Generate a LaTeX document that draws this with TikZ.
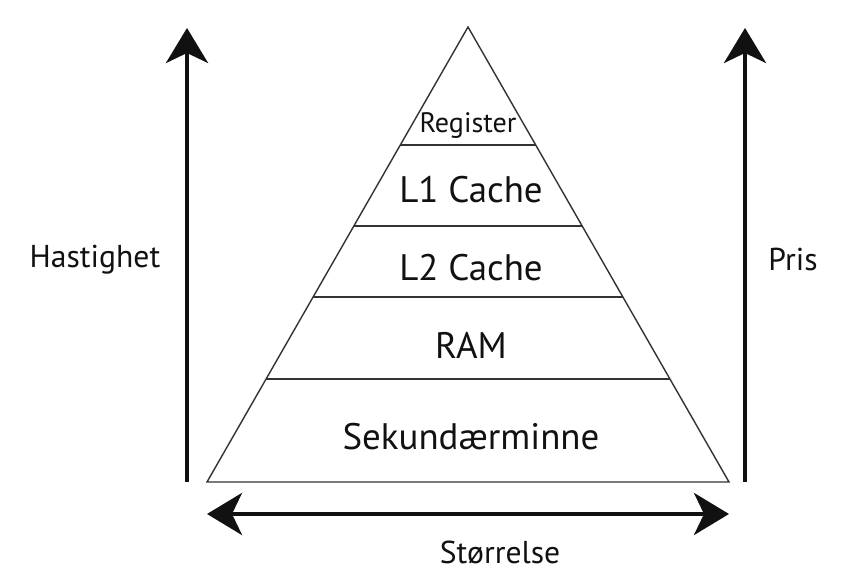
\documentclass[tikz,border=0pt]{standalone}
\usepackage{fontspec}
\setmainfont{PT Sans}
\usetikzlibrary{arrows.meta, calc}
\definecolor{inkblack}{HTML}{111111}
\definecolor{edgegray}{HTML}{333333}

\begin{document}
\begin{tikzpicture}[
  x=0.02cm, y=0.02cm,
  >={Stealth[length=7mm, width=8.4mm, inset=2mm]},
  axis/.style={draw=inkblack, line width=2.4pt, ->},
  level/.style={draw=edgegray, line width=0.8pt},
  tier/.style={font=\fontsize{21}{25}\selectfont, text=inkblack},
  side/.style={font=\fontsize{18}{21}\selectfont, text=inkblack},
]
\useasboundingbox (0,0) rectangle (865,570);

% Pyramid
\coordinate (apex) at (468,543);
\coordinate (bl) at (207,88);
\coordinate (br) at (729,88);
\draw[level, line join=miter] (apex) -- (bl) -- (br) -- cycle;
\foreach \t in {118,199,270,352}
  \draw[level] ($(apex)!\t/455!(bl)$) -- ($(apex)!\t/455!(br)$);

\node[tier, font=\fontsize{16}{19}\selectfont] (reg) at (468,444) {Register};
\node[tier] (l1) at (471,380) {L1 Cache};
\node[tier] (l2) at (471,302) {L2 Cache};
\node[tier] (ram) at (471,225) {RAM};
\node[tier] (sek) at (471,133) {Sekundærminne};

% Axes
\coordinate (hlo) at (187,88);
\coordinate (hhi) at (187,542);
\coordinate (plo) at (745,88);
\coordinate (phi) at (745,542);
\coordinate (sl) at (207,56);
\coordinate (sr) at (729,56);
\draw[axis] (hlo) -- (hhi);
\draw[axis] (plo) -- (phi);
\draw[axis, <->] (sl) -- (sr);

\node[side] (speed) at (95,310) {Hastighet};
\node[side] (price) at (793,310) {Pris};
\node[side] (size) at (500,18) {Størrelse};
\end{tikzpicture}
\end{document}
